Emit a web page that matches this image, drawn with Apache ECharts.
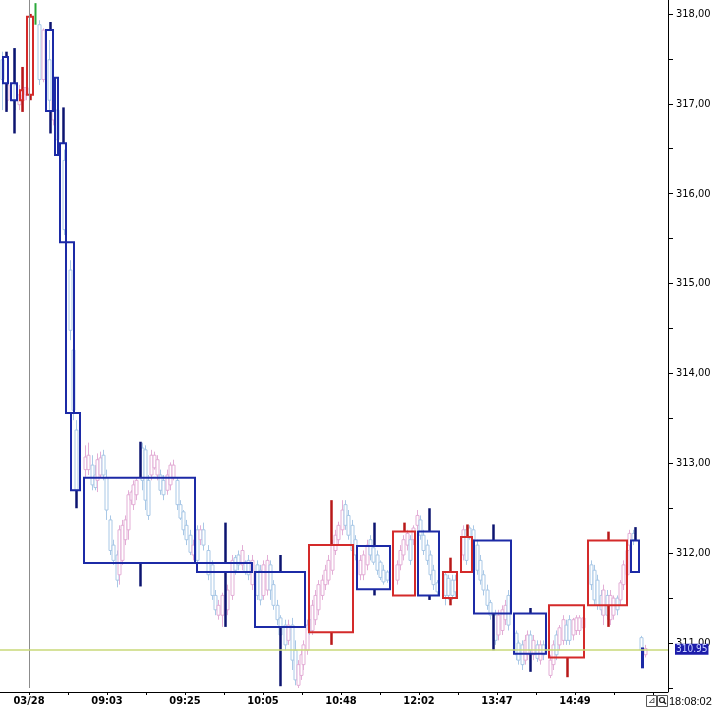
<!DOCTYPE html>
<html>
<head>
<meta charset="utf-8">
<script src="https://cdn.jsdelivr.net/npm/echarts@6/dist/echarts.min.js"></script>
<style>html,body{margin:0;padding:0;background:#fff;}#c{width:720px;height:709px;}</style>
</head>
<body>
<div id="c"></div>
<script>
// x unit: time index (one unit per bar slot); price in points
const xTickLabels = ['03/28', '09:03', '09:25', '10:05', '10:48', '12:02', '13:47', '14:49'];
const xLabelValues = [39, 117, 195, 273, 351, 429, 507, 585];
const xTickValues = [39, 78, 117, 156, 195, 234, 273, 312, 351, 390, 429, 468, 507, 546, 585, 624, 663];
const yTickValues = [311, 312, 313, 314, 315, 316, 317, 318];
const yMinorValues = [310.5, 311, 311.5, 312, 312.5, 313, 313.5, 314, 314.5, 315, 315.5, 316, 316.5, 317, 317.5, 318];
const dateSeparator = 39;
const lastPrice = 310.95;
const lastPriceLine = 310.93;
const clockText = '18:08:02';

// volume-width candles: [start, end, open, close, low, high]
const bigCandles = [
  [13, 18, 317.52, 317.23, 316.91, 317.58],
  [21, 27, 317.23, 317.04, 316.67, 317.62],
  [30, 33, 317.04, 317.15, 316.91, 317.41],
  [37, 43, 317.10, 317.97, 317.04, 318.00],
  [44, 46, 318.00, 318.00, 317.88, 318.12],
  [56, 63, 317.82, 316.92, 316.67, 317.91],
  [65, 68, 317.29, 316.43, 316.43, 317.29],
  [70, 76, 316.56, 315.46, 315.46, 316.96],
  [76, 84, 315.46, 313.56, 313.56, 315.46],
  [81, 90, 313.56, 312.70, 312.50, 313.56],
  [94, 205, 312.84, 311.89, 311.63, 313.24],
  [207, 262, 311.89, 311.79, 311.18, 312.34],
  [265, 315, 311.79, 311.18, 310.52, 311.98],
  [319, 363, 311.12, 312.09, 310.98, 312.59],
  [367, 400, 312.08, 311.60, 311.53, 312.34],
  [403, 425, 311.53, 312.24, 311.53, 312.34],
  [428, 449, 312.24, 311.53, 311.48, 312.50],
  [453, 467, 311.50, 311.79, 311.42, 311.95],
  [471, 482, 311.79, 312.18, 311.79, 312.32],
  [484, 521, 312.14, 311.33, 310.92, 312.32],
  [524, 556, 311.33, 310.88, 310.68, 311.39],
  [559, 594, 310.84, 311.42, 310.62, 311.42],
  [598, 637, 311.42, 312.14, 311.18, 312.24],
  [641, 649, 312.14, 311.79, 311.79, 312.29],
  [652, 653, 310.94, 310.73, 310.73, 310.94]
];

// underlying minute candles: [x, open, close, low, high]
const smallCandles = [
  [12, 317.49, 317.27, 316.93, 317.58], [17, 317.04, 317.21, 316.93, 317.54], [25, 317.21, 317.04, 316.93, 317.62],
  [29, 316.99, 317.10, 316.93, 317.21], [33, 317.04, 317.18, 316.91, 317.41], [36, 317.10, 317.18, 317.04, 317.27],
  [49, 317.88, 317.27, 317.21, 317.93], [53, 317.27, 317.82, 317.24, 317.84], [59, 317.49, 317.04, 316.93, 317.71],
  [63, 316.82, 317.04, 316.76, 317.10], [67, 316.93, 316.60, 316.49, 317.04], [74, 316.37, 315.60, 315.54, 316.49],
  [80, 315.15, 314.48, 314.37, 315.26], [83, 314.26, 313.59, 313.48, 314.37], [86, 313.37, 312.70, 312.59, 313.48],
  [95, 312.93, 313.07, 312.85, 313.20], [98, 312.93, 313.09, 312.87, 313.23], [102, 312.98, 312.76, 312.70, 313.09],
  [105, 312.87, 312.73, 312.70, 312.98], [107, 312.81, 313.04, 312.68, 313.11], [110, 312.87, 313.06, 312.84, 313.13],
  [113, 313.09, 312.87, 312.81, 313.15], [116, 312.84, 312.48, 312.37, 312.93], [120, 312.37, 312.03, 311.98, 312.42],
  [123, 312.09, 311.92, 311.87, 312.15], [127, 311.98, 311.70, 311.62, 312.03], [129, 311.76, 312.26, 311.65, 312.31],
  [132, 311.92, 312.31, 311.87, 312.37], [135, 312.15, 312.37, 312.09, 312.42], [138, 312.26, 312.65, 312.15, 312.70],
  [141, 312.59, 312.68, 312.54, 312.70], [143, 312.54, 312.76, 312.48, 312.81], [146, 312.65, 312.81, 312.59, 312.84],
  [152, 313.17, 312.81, 312.70, 313.23], [155, 313.15, 312.59, 312.48, 313.20], [158, 312.81, 312.42, 312.37, 312.87],
  [161, 312.87, 313.09, 312.81, 313.15], [164, 312.95, 313.09, 312.93, 313.13], [167, 312.87, 313.04, 312.81, 313.09],
  [170, 312.87, 312.70, 312.65, 312.93], [173, 312.81, 312.65, 312.59, 312.87], [177, 312.70, 312.87, 312.65, 312.93],
  [180, 312.76, 312.98, 312.70, 313.01], [183, 312.84, 312.98, 312.81, 313.04], [187, 312.81, 312.54, 312.48, 312.84],
  [190, 312.54, 312.39, 312.37, 312.59], [193, 312.46, 312.26, 312.20, 312.48], [196, 312.31, 312.15, 312.09, 312.37],
  [200, 312.20, 312.01, 311.98, 312.26], [203, 311.98, 312.09, 311.92, 312.15], [207, 312.26, 311.92, 311.81, 312.31],
  [210, 312.15, 312.26, 312.09, 312.31], [213, 312.26, 312.09, 312.03, 312.34], [218, 312.03, 311.76, 311.70, 312.09],
  [222, 311.87, 311.53, 311.48, 311.92], [225, 311.53, 311.37, 311.31, 311.59], [228, 311.31, 311.42, 311.26, 311.48],
  [232, 311.31, 311.53, 311.18, 311.56], [237, 311.37, 311.59, 311.31, 311.65], [242, 311.53, 311.92, 311.48, 311.98],
  [245, 311.95, 311.81, 311.76, 311.98], [248, 311.98, 311.87, 311.81, 312.03], [252, 311.87, 312.03, 311.81, 312.09],
  [255, 311.90, 311.79, 311.76, 311.92], [258, 311.92, 311.76, 311.70, 311.98], [262, 311.65, 311.92, 311.59, 311.98],
  [267, 311.87, 311.53, 311.48, 311.92], [270, 311.81, 311.48, 311.42, 311.87], [273, 311.53, 311.87, 311.48, 311.92],
  [277, 311.59, 311.92, 311.53, 311.98], [280, 311.87, 311.59, 311.48, 311.92], [283, 311.65, 311.42, 311.37, 311.70],
  [287, 311.42, 311.26, 311.20, 311.48], [290, 311.28, 311.09, 311.03, 311.31], [295, 311.20, 310.98, 310.92, 311.26],
  [298, 311.03, 311.20, 310.98, 311.26], [302, 311.20, 310.81, 310.70, 311.28], [305, 310.92, 310.59, 310.53, 311.03],
  [308, 310.53, 310.76, 310.50, 310.81], [311, 310.64, 310.87, 310.59, 310.92], [313, 310.76, 310.98, 310.70, 311.03],
  [317, 310.92, 311.20, 310.87, 311.26], [319, 311.26, 311.14, 311.09, 311.31], [322, 311.14, 311.42, 311.09, 311.48],
  [325, 311.26, 311.53, 311.20, 311.59], [328, 311.37, 311.65, 311.31, 311.70], [332, 311.53, 311.70, 311.48, 311.76],
  [335, 311.65, 311.81, 311.59, 311.87], [338, 311.70, 311.92, 311.65, 311.98], [342, 311.81, 312.09, 311.76, 312.15],
  [345, 312.03, 312.20, 311.98, 312.26], [348, 312.15, 312.31, 312.09, 312.35], [352, 312.26, 312.48, 312.20, 312.59],
  [355, 312.54, 312.31, 312.26, 312.59], [358, 312.42, 312.20, 312.15, 312.48], [362, 312.31, 312.03, 311.98, 312.37],
  [365, 312.15, 311.98, 311.92, 312.20], [370, 311.76, 311.92, 311.70, 311.98], [373, 311.76, 311.98, 311.70, 312.03],
  [377, 311.87, 312.09, 311.81, 312.15], [380, 312.15, 311.98, 311.92, 312.20], [383, 312.06, 311.90, 311.87, 312.09],
  [387, 311.98, 311.81, 311.76, 312.03], [390, 311.90, 311.73, 311.70, 311.92], [393, 311.81, 311.68, 311.65, 311.87],
  [397, 311.79, 311.70, 311.67, 311.81], [407, 311.70, 311.87, 311.65, 311.92], [410, 311.87, 312.03, 311.81, 312.09],
  [413, 311.98, 312.15, 311.92, 312.20], [417, 312.09, 312.22, 312.03, 312.26], [420, 312.15, 311.92, 311.87, 312.20],
  [423, 312.15, 312.28, 312.09, 312.31], [427, 312.31, 312.42, 312.26, 312.48], [430, 312.37, 312.20, 312.15, 312.42],
  [433, 312.20, 312.03, 311.98, 312.26], [437, 312.09, 311.92, 311.87, 312.15], [440, 311.98, 311.76, 311.70, 312.03],
  [443, 311.81, 311.65, 311.59, 311.87], [447, 311.67, 311.57, 311.53, 311.70], [455, 311.76, 311.53, 311.42, 311.78],
  [458, 311.72, 311.53, 311.48, 311.76], [462, 311.70, 311.53, 311.48, 311.76], [465, 311.70, 311.57, 311.50, 311.76],
  [473, 311.98, 312.26, 311.92, 312.31], [476, 312.26, 311.92, 311.87, 312.31], [479, 312.28, 312.17, 312.15, 312.31],
  [483, 312.26, 312.15, 312.09, 312.31], [487, 312.09, 311.81, 311.76, 312.15], [490, 311.92, 311.70, 311.65, 311.98],
  [493, 311.76, 311.59, 311.53, 311.81], [497, 311.59, 311.42, 311.37, 311.65], [500, 311.45, 311.31, 311.26, 311.48],
  [505, 311.31, 311.03, 310.98, 311.37], [508, 311.09, 311.31, 311.03, 311.37], [512, 311.14, 311.37, 311.09, 311.42],
  [515, 311.26, 311.42, 311.20, 311.48], [518, 311.53, 311.20, 311.14, 311.59], [526, 311.11, 310.87, 310.81, 311.14],
  [528, 311.00, 310.81, 310.76, 311.03], [532, 310.98, 310.76, 310.70, 311.03], [535, 310.81, 311.03, 310.76, 311.09],
  [537, 310.87, 311.09, 310.81, 311.14], [540, 311.09, 310.92, 310.87, 311.14], [543, 310.87, 311.03, 310.81, 311.09],
  [547, 310.98, 310.83, 310.79, 311.03], [550, 310.81, 310.98, 310.76, 311.03], [553, 310.98, 310.87, 310.81, 311.03],
  [560, 310.64, 310.81, 310.61, 310.87], [563, 310.76, 310.98, 310.70, 311.03], [566, 311.09, 310.87, 310.81, 311.14],
  [569, 310.98, 311.17, 310.92, 311.20], [573, 311.03, 311.26, 310.98, 311.31], [576, 311.20, 311.03, 310.98, 311.26],
  [579, 311.26, 311.03, 310.98, 311.31], [583, 311.09, 311.26, 311.03, 311.28], [586, 311.14, 311.28, 311.09, 311.31],
  [589, 311.14, 311.28, 311.09, 311.31], [593, 311.17, 311.28, 311.14, 311.31], [601, 311.87, 311.65, 311.59, 311.92],
  [604, 311.81, 311.48, 311.42, 311.87], [607, 311.70, 311.42, 311.37, 311.76], [611, 311.53, 311.37, 311.31, 311.59],
  [613, 311.31, 311.59, 311.20, 311.65], [617, 311.53, 311.31, 311.26, 311.59], [620, 311.26, 311.53, 311.20, 311.59],
  [623, 311.31, 311.50, 311.26, 311.53], [627, 311.50, 311.37, 311.31, 311.53], [630, 311.48, 311.67, 311.42, 311.70],
  [633, 311.65, 311.87, 311.59, 311.92], [637, 311.76, 312.03, 311.70, 312.09], [639, 312.09, 312.22, 312.03, 312.26],
  [643, 312.22, 312.15, 312.09, 312.26], [651, 311.06, 310.92, 310.81, 311.08], [655, 310.87, 310.94, 310.84, 310.98]
];

const FONT = "'Liberation Sans Narrow', 'DejaVu Sans Condensed', 'Liberation Sans', sans-serif";
const UP = '#d42a2a', DOWN = '#1c2aa6', UP_WICK = '#b81818', DOWN_WICK = '#0c1470', FLAT = '#2aa83a';
const UP_LIGHT = '#e3aed6', DOWN_LIGHT = '#a9c8e6';

function renderBig(params, api) {
  const xs = api.coord([api.value(0), 0])[0];
  const xe = api.coord([api.value(1), 0])[0];
  const o = api.value(2), c = api.value(3);
  const yo = api.coord([0, o])[1], yc = api.coord([0, c])[1];
  const yl = api.coord([0, api.value(4)])[1], yh = api.coord([0, api.value(5)])[1];
  const top = Math.min(yo, yc), bot = Math.max(yo, yc);
  const cx = Math.round((xs + xe) / 2) + 0.5;
  const children = [];
  if (o === c) {
    children.push({type: 'line', shape: {x1: cx, y1: yh, x2: cx, y2: yl}, style: {stroke: FLAT, lineWidth: 2}});
    return {type: 'group', children};
  }
  const up = c > o;
  const col = up ? UP : DOWN, wcol = up ? UP_WICK : DOWN_WICK;
  if (yh < top - 0.5) children.push({type: 'line', shape: {x1: cx, y1: yh, x2: cx, y2: top}, style: {stroke: wcol, lineWidth: 2.5}});
  if (yl > bot + 0.5) children.push({type: 'line', shape: {x1: cx, y1: bot, x2: cx, y2: yl}, style: {stroke: wcol, lineWidth: 2.5}});
  children.push({type: 'rect', shape: {x: xs, y: top, width: Math.max(1, xe - xs), height: Math.max(1, bot - top)},
    style: {fill: 'none', stroke: col, lineWidth: 2}});
  return {type: 'group', children};
}

function renderSmall(params, api) {
  const cx = Math.round(api.coord([api.value(0), 0])[0]) + 0.5;
  const o = api.value(1), c = api.value(2);
  const yo = api.coord([0, o])[1], yc = api.coord([0, c])[1];
  const yl = api.coord([0, api.value(3)])[1], yh = api.coord([0, api.value(4)])[1];
  const col = c >= o ? UP_LIGHT : DOWN_LIGHT;
  const top = Math.min(yo, yc), bot = Math.max(yo, yc);
  return {type: 'group', children: [
    {type: 'line', shape: {x1: cx, y1: yh, x2: cx, y2: yl}, style: {stroke: col, lineWidth: 1}},
    {type: 'rect', shape: {x: cx - 1.5, y: top, width: 3, height: Math.max(1, bot - top)}, style: {fill: '#fff', stroke: col, lineWidth: 1}}
  ]};
}

const chart = echarts.init(document.getElementById('c'));
chart.setOption({
  animation: false,
  backgroundColor: '#fff',
  grid: {left: 0, right: 52, top: 0, bottom: 21},
  xAxis: {
    type: 'value', min: 10, max: 678, offset: 4,
    axisLine: {lineStyle: {color: '#000', width: 1}},
    axisTick: {length: 3, lineStyle: {color: '#000'}, customValues: xTickValues},
    splitLine: {show: false},
    axisLabel: {
      margin: 4, color: '#000', fontSize: 11, fontWeight: 'bold', fontFamily: FONT,
      customValues: xLabelValues,
      formatter: v => {
        const k = xLabelValues.indexOf(v);
        return k >= 0 ? xTickLabels[k] : '';
      }
    }
  },
  yAxis: {
    type: 'value', position: 'right', min: 310.5, max: 318.155,
    axisLine: {show: false},
    axisTick: {show: true, length: 5, lineStyle: {color: '#000'}, customValues: yMinorValues},
    splitLine: {show: false},
    axisLabel: {
      margin: 8, color: '#000', fontSize: 11, fontFamily: FONT,
      customValues: yTickValues,
      formatter: v => v.toFixed(2).replace('.', ',')
    }
  },
  series: [
    {
      type: 'custom', name: 'minute', renderItem: renderSmall, data: smallCandles, z: 2, silent: true,
      encode: {x: 0, y: [1, 2, 3, 4]},
      markLine: {
        silent: true, symbol: 'none', animation: false,
        lineStyle: {color: '#8c8c8c', width: 1, type: 'solid'}, label: {show: false},
        data: [{xAxis: dateSeparator}]
      }
    },
    {
      type: 'custom', name: 'volume candle', renderItem: renderBig, data: bigCandles, z: 3, silent: true,
      encode: {x: [0, 1], y: [2, 3, 4, 5]},
      markLine: {
        silent: true, symbol: 'none', animation: false, z: 10,
        lineStyle: {color: '#c8d878', width: 1.5, type: 'solid'},
        label: {
          show: true, position: 'end', distance: 7, formatter: lastPrice.toFixed(2),
          backgroundColor: '#1c1caa', color: '#c8d0ff', fontSize: 10, fontFamily: FONT, padding: [1, 1, 0, 1]
        },
        data: [{yAxis: lastPriceLine}]
      }
    }
  ],
  graphic: [
    {type: 'line', shape: {x1: 668.5, y1: 0, x2: 668.5, y2: 692}, style: {stroke: '#000', lineWidth: 1}, z: 20},
    {type: 'rect', shape: {x: 646.5, y: 695.5, width: 10, height: 11}, style: {fill: '#fff', stroke: '#555', lineWidth: 1}, z: 20},
    {type: 'text', x: 648, y: 696, style: {text: '⊿', fontSize: 9, fill: '#333', font: '9px DejaVu Sans'}, z: 21},
    {type: 'rect', shape: {x: 657.5, y: 695.5, width: 10, height: 11}, style: {fill: '#fff', stroke: '#555', lineWidth: 1}, z: 20},
    {type: 'circle', shape: {cx: 662, cy: 700, r: 2.5}, style: {fill: 'none', stroke: '#222', lineWidth: 1.2}, z: 21},
    {type: 'line', shape: {x1: 663.5, y1: 701.5, x2: 666, y2: 704}, style: {stroke: '#222', lineWidth: 1.5}, z: 21},
    {type: 'text', x: 669, y: 696, style: {text: clockText, fontSize: 11, fill: '#000', font: "11px 'Liberation Sans Narrow', 'DejaVu Sans Condensed', sans-serif"}, z: 21}
  ]
});
</script>
</body>
</html>
